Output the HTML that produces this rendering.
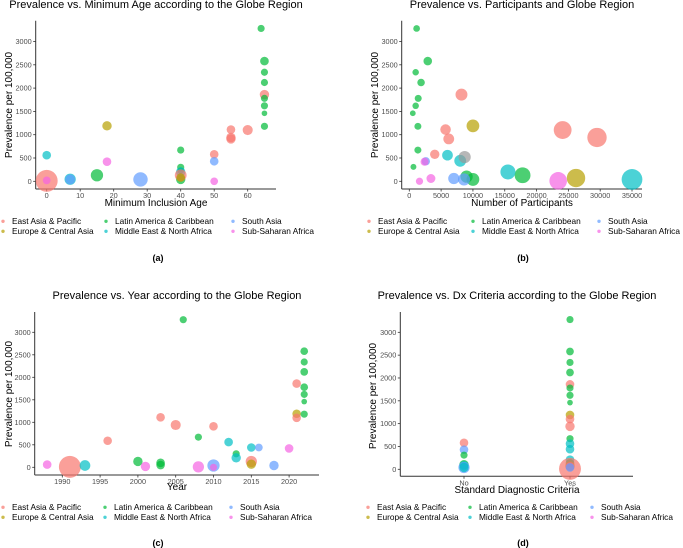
<!DOCTYPE html>
<html><head><meta charset="utf-8"><style>
html,body{margin:0;padding:0;background:#fff;}
svg{display:block;font-family:"Liberation Sans",sans-serif;}
</style></head><body>
<svg id="fig" width="683" height="548" viewBox="0 0 683 548" xmlns="http://www.w3.org/2000/svg"></svg>
<script>
// shared
const regions = ["East Asia & Pacific","Europe & Central Asia","Latin America & Caribbean","Middle East & North Africa","South Asia","Sub-Saharan Africa"];
const regionColors = ["#F8766D","#B79F00","#00BA38","#00BFC4","#619CFF","#F564E3","#999999"];
const yTicks = [0,500,1000,1500,2000,2500,3000];
const yTickLabels = ["0","500","1000","1500","2000","2500","3000"];

// panel a: minimum inclusion age
const aAge =   [0,0,0,7,7,15,18,18,28,40,40,40,40,40,40,40,50,50,50,55,55,55,60,64,65,65,65,65,65,65,65,65];
const aPrev =  [10,20,560,45,40,130,1190,420,40,670,300,230,40,200,130,80,580,430,0,1110,940,910,1100,3280,2580,2340,2120,1860,1780,1620,1460,1180];
const aRegion= [0,5,3,3,4,2,1,5,4,2,2,2,2,3,0,1,0,4,5,0,0,0,0,2,2,2,2,0,2,2,2,2];
const aPart =  [40,2,3,7,5,9,4,3,14,1.5,1.5,1,4,4,8,3,3,3,2,3,4,4,5,1.5,3,1.5,1.5,4,1.5,1.5,0.5,1.5];
const aXTicks = [0,10,20,30,40,50,60];

// panel b: participants
const bPartX = [1150,2900,1000,1850,1400,1000,550,1350,1350,650,9000,10000,17800,8200,5700,6200,4000,24100,29500,10000,26200,6000,8000,15500,35000,8700,2600,7000,8600,2400,1600,3400,23400];
const bPrev =  [3280,2580,2340,2120,1780,1620,1460,1180,670,310,100,40,130,1860,1110,910,580,1100,940,1190,70,560,440,200,40,520,430,60,40,420,0,60,10];
const bRegion= [2,2,2,2,2,2,2,2,2,2,2,2,2,0,0,0,0,0,0,1,1,3,3,3,3,6,4,4,4,5,5,5,5];
const bXTicks = [0,5000,10000,15000,20000,25000,30000,35000];

// panel c: year
const cYear =  [1988,1991,1993,1996,2000,2001,2003,2003,2003,2005,2006,2008,2008,2010,2010,2010,2012,2013,2013,2015,2015,2015,2016,2018,2020,2021,2021,2021,2022,2022,2022,2022,2022,2022,2022];
const cPrev =  [60,10,40,590,130,20,100,50,1110,940,3280,10,670,910,40,0,560,300,210,440,130,70,440,40,420,1860,1190,1100,2580,2340,2120,1780,1620,1460,1180];
const cRegion= [5,0,3,0,2,5,2,2,0,0,2,5,2,0,4,5,3,2,3,3,0,1,4,4,5,0,1,0,2,2,2,2,2,2,2];
const cPart =  [3,40,6,3,4,4,3,3,3,5,1.5,7,1.5,3,9,1.5,3,1.5,4,3,7,4,2,4,3,3,3,3,2,1.5,2,2,1.5,0.5,1.5];
const cXTicks = [1990,1995,2000,2005,2010,2015,2020];

// panel d: diagnostic criteria
const dCats = ["No","Yes"];
const dCat =   [0,0,0,0,0,0,0,1,1,1,1,1,1,1,1,1,1,1,1,1,1,1,1,1,1,1,1];
const dPrev =  [580,430,310,100,80,40,40,3280,2580,2340,2120,1860,1780,1620,1460,1190,1100,940,670,560,440,210,130,70,60,10,40];
const dRegion= [0,4,2,2,3,4,3,2,2,2,2,0,2,2,2,1,0,0,2,3,3,3,2,1,5,0,4];
const dPart =  [3,3,1.5,4,4,7,4,1.5,2,1.5,2,3,1.5,1.5,0.5,3,3,4,1.5,3,3,3,3,4,3,40,3];

const NS = "http://www.w3.org/2000/svg";
const svg = document.getElementById('fig');
function mk(tag, attrs, parent, text){
  const e = document.createElementNS(NS, tag);
  for (const k in attrs) e.setAttribute(k, attrs[k]);
  if (text !== undefined) e.textContent = text;
  (parent||svg).appendChild(e);
  return e;
}
function rad(p){ return 1.8 + Math.sqrt(p)*1.45; }

function panel(cfg){
  const g = mk('g', {});
  
  
  const yS = v => cfg.y0 - v*cfg.yPer;
  const t = mk('text', {x:cfg.titleX, y:cfg.titleY, 'font-size':11, 'text-anchor':'middle', fill:'#000'}, g, cfg.title);
  
  
  const ya = mk('line', {x1:cfg.left, x2:cfg.left, y1:cfg.top, y2:cfg.bottom, stroke:'#333', 'stroke-width':1}, g);
  
  
  const xa = mk('line', {x1:cfg.left, x2:cfg.right, y1:cfg.bottom, y2:cfg.bottom, stroke:'#333', 'stroke-width':1}, g);
  
  
  yTicks.forEach((v,i)=>{
    const y = yS(v);
    mk('line', {x1:cfg.left-2.5, x2:cfg.left, y1:y, y2:y, stroke:'#333','stroke-width':0.8}, g);
    const l = mk('text', {x:cfg.left-4, y:y+2.5, 'font-size':7.3, 'text-anchor':'end', fill:'#4d4d4d'}, g, yTickLabels[i]);
    
    
  });
  cfg.xTicks.forEach((v,i)=>{
    const x = cfg.xS(v);
    mk('line', {x1:x, x2:x, y1:cfg.bottom, y2:cfg.bottom+2.5, stroke:'#333','stroke-width':0.8}, g);
    const l = mk('text', {x:x, y:cfg.bottom+9, 'font-size':7.3, 'text-anchor':'middle', fill:'#4d4d4d'}, g, cfg.xTickLabels[i]);
    
    
  });
  const xt = mk('text', {x:cfg.xTitleX, y:cfg.xTitleY, 'font-size':10, 'text-anchor':'middle', fill:'#000'}, g, cfg.xTitle);
  
  
  const yt = mk('text', {x:0, y:0, 'font-size':10, 'text-anchor':'middle', fill:'#000', transform:`translate(${cfg.yTitleX},${cfg.yTitleY}) rotate(-90)`}, g, 'Prevalence per 100,000');
  
  
  cfg.xs.forEach((xv,i)=>{
    const c = mk('circle', {cx:cfg.xS(xv), cy:yS(cfg.ys[i]), r:rad(cfg.sizes[i]), fill:regionColors[cfg.regs[i]], 'fill-opacity':0.7}, g);
    
    
  });
  regions.forEach((name,i)=>{
    const colIdx = Math.floor(i/2), row = i%2;
    const lg = mk('g', {}, g);
    
    
    const y = cfg.legY + row*10;
    mk('circle', {cx:cfg.legDots[colIdx], cy:y-2.7, r:1.7, fill:regionColors[i], 'fill-opacity':0.7}, lg);
    mk('text', {x:cfg.legDots[colIdx]+9, y:y, 'font-size':8.3, fill:'#000'}, lg, name);
  });
  const pl = mk('text', {x:cfg.labX, y:cfg.labY, 'font-size':9, 'font-weight':'bold', 'text-anchor':'middle', fill:'#000'}, g, cfg.label);
  
  
}

panel({name:'panel-a', title:'Prevalence vs. Minimum Age according to the Globe Region', titleX:156, titleY:8,
  left:35.7, right:276, top:20.7, bottom:189, y0:181.3, yPer:23.3/500,
  xS:v=>46.7+v*3.35, xTicks:aXTicks, xTickLabels:aXTicks.map(String),
  xTitle:'Minimum Inclusion Age', xTitleX:156, xTitleY:206, yTitleX:12, yTitleY:105,
  xs:aAge, ys:aPrev, regs:aRegion, sizes:aPart,
  legY:224, legDots:[3,106,233], label:'(a)', labX:158, labY:261});

panel({name:'panel-b', title:'Prevalence vs. Participants and Globe Region', titleX:522, titleY:8,
  left:401.7, right:642, top:20.7, bottom:189, y0:181.3, yPer:23.3/500,
  xS:v=>409.3+v*0.006363, xTicks:bXTicks, xTickLabels:bXTicks.map(String),
  xTitle:'Number of Participants', xTitleX:522, xTitleY:206, yTitleX:378, yTitleY:105,
  xs:bPartX, ys:bPrev, regs:bRegion, sizes:bPartX.map(v=>v/1000),
  legY:224, legDots:[369,473,599], label:'(b)', labX:523, labY:261});

panel({name:'panel-c', title:'Prevalence vs. Year according to the Globe Region', titleX:177, titleY:299,
  left:34.7, right:319, top:312, bottom:475, y0:467.3, yPer:22.5/500,
  xS:v=>62.3+(v-1990)*7.56, xTicks:cXTicks, xTickLabels:cXTicks.map(String),
  xTitle:'Year', xTitleX:177, xTitleY:490, yTitleX:12, yTitleY:394,
  xs:cYear, ys:cPrev, regs:cRegion, sizes:cPart,
  legY:510, legDots:[3,105,231], label:'(c)', labX:158, labY:546});

panel({name:'panel-d', title:'Prevalence vs. Dx Criteria according to the Globe Region', titleX:517, titleY:299,
  left:400.3, right:633, top:312, bottom:476.3, y0:469.3, yPer:22.83/500,
  xS:v=>464+v*106, xTicks:[0,1], xTickLabels:dCats,
  xTitle:'Standard Diagnostic Criteria', xTitleX:517, xTitleY:493, yTitleX:376, yTitleY:396,
  xs:dCat, ys:dPrev, regs:dRegion, sizes:dPart,
  legY:510, legDots:[368,470,592], label:'(d)', labX:523, labY:546});
</script>
</body></html>
